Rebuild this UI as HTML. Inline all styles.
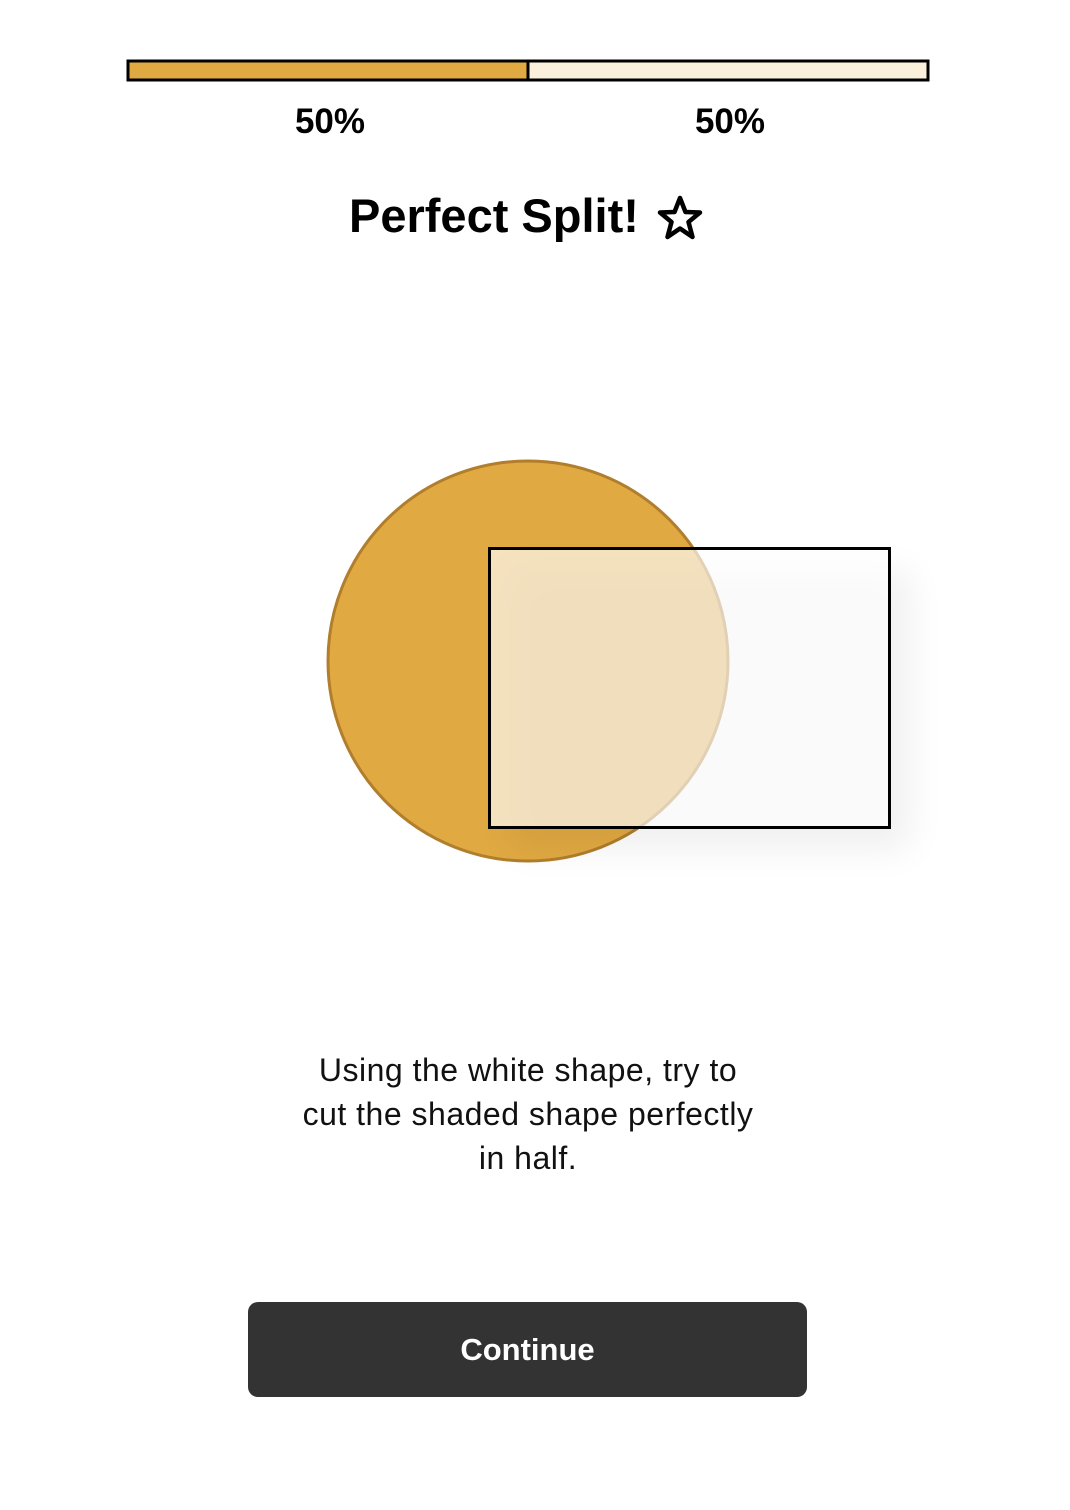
<!DOCTYPE html>
<html><head><meta charset="utf-8"><style>
body{margin:0;width:1070px;height:1510px;background:#fff;font-family:"Liberation Sans",sans-serif;position:relative;overflow:hidden}
.abs{position:absolute}
</style></head><body>
<svg class="abs" style="left:0;top:0" width="1070" height="160" id="bar"></svg>
<div class="abs" style="left:349px;top:188px;font-weight:bold;font-size:47px;color:#000;white-space:nowrap">Perfect Split!</div>
<svg class="abs" style="left:654px;top:194px" width="52" height="50" viewBox="0 0 52 50">
<polygon points="26,4 31.5,18 46,18.5 34.5,28 38.5,43 26,34.5 13.5,43 17.5,28 6,18.5 20.5,18" fill="none" stroke="#000" stroke-width="4.5" stroke-linejoin="round"/></svg>
<svg class="abs" style="left:0;top:400px" width="1070" height="520">
<defs><filter id="sh" x="-20%" y="-20%" width="140%" height="140%"><feGaussianBlur stdDeviation="18"/></filter></defs>
<circle cx="528" cy="261" r="200" fill="#E1A942" stroke="#B07E2C" stroke-width="3"/>
<rect x="510" y="170" width="400" height="280" fill="#000" opacity="0.06" filter="url(#sh)"/>
<rect x="489.5" y="148.5" width="400" height="279" fill="#fff" fill-opacity="0.66" stroke="#000" stroke-width="3"/>
</svg>
<div class="abs" style="left:0;width:1056px;top:1048px;text-align:center;font-size:32px;letter-spacing:0.5px;line-height:44px;color:#111">Using the white shape, try to<br>cut the shaded shape perfectly<br>in half.</div>
<div class="abs" style="left:248px;top:1302px;width:559px;height:95px;background:#333;border-radius:10px;color:#fff;font-size:31px;font-weight:bold;line-height:95px;text-align:center">Continue</div>
<script>
const categories=["left","right"];
const values=[50,50];
const labels=["50%","50%"];
const colors=["#E1A942","#FAF0DC"];
const svg=document.getElementById('bar');
const NS="http://www.w3.org/2000/svg";
const x0=128,x1=928,total=values.reduce((a,b)=>a+b,0);
const sx=v=>x0+(x1-x0)*v/total;
let acc=0;
values.forEach((v,i)=>{
 const r=document.createElementNS(NS,'rect');
 
 
 r.setAttribute('x',sx(acc));r.setAttribute('y',61);
 r.setAttribute('width',sx(acc+v)-sx(acc));r.setAttribute('height',19);
 r.setAttribute('fill',colors[i]);r.setAttribute('stroke','#000');r.setAttribute('stroke-width',3);
 svg.appendChild(r);
 const t=document.createElementNS(NS,'text');
 
 
 t.setAttribute('x',(sx(acc)+sx(acc+v))/2+2);t.setAttribute('y',133);
 t.setAttribute('text-anchor','middle');t.setAttribute('font-size','35');t.setAttribute('font-weight','bold');
 t.setAttribute('font-family','Liberation Sans, sans-serif');
 t.textContent=labels[i];svg.appendChild(t);
 acc+=v;
});
</script>
</body></html>
